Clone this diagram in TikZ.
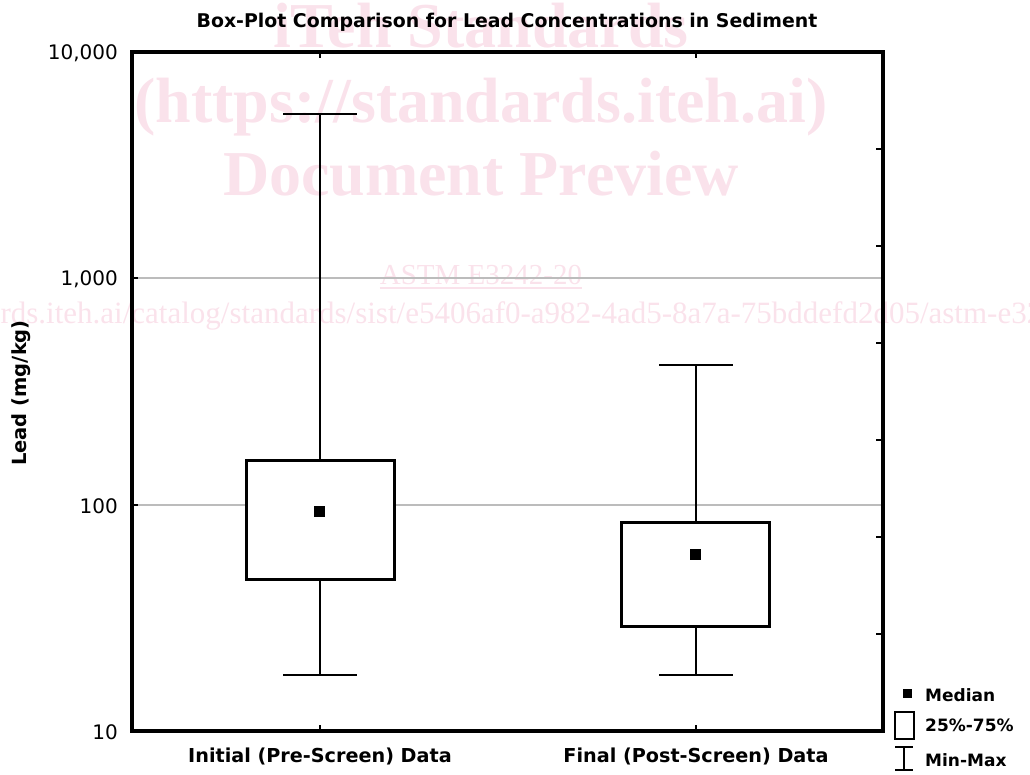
\documentclass[tikz,border=0pt]{standalone}
\usepackage{fontspec}
\setmainfont{DejaVu Sans}
\newfontfamily\wmfont{Liberation Serif}
\definecolor{wmpink}{RGB}{250,226,235}
\definecolor{gridgray}{RGB}{188,188,188}
\begin{document}
\begin{tikzpicture}[x=1pt,y=-1pt,
  wm/.style={text=wmpink, inner sep=0},
  wmbig/.style={wm, anchor=base, font=\wmfont\bfseries\fontsize{64}{70}\selectfont},
  frameline/.style={line width=3.2pt, black},
  gridline/.style={line width=2.2pt, gridgray},
  tickline/.style={line width=2.8pt, black},
  boxline/.style={line width=3pt, black, fill=white},
  whisk/.style={line width=2.8pt, black},
  legline/.style={line width=2.5pt, black},
  medsq/.style={fill=black, draw=none},
  ticklab/.style={font=\fontsize{20}{24}\selectfont, anchor=east, inner sep=0},
  catlab/.style={font=\bfseries\fontsize{19.2}{23}\selectfont, anchor=base, inner sep=0},
  leglab/.style={font=\bfseries\fontsize{17}{20}\selectfont, anchor=west, inner sep=0}]
\useasboundingbox (0,0) rectangle (1030,774);
% watermark
\begin{scope}
\clip (0,0) rectangle (1030,774);
\node[wmbig] (wm1) at (481,47) {iTeh Standards};
\node[wmbig] (wm2) at (481,122) {(https://standards.iteh.ai)};
\node[wmbig] (wm3) at (481,195) {Document Preview};
\node[wm, anchor=base, font=\wmfont\fontsize{29}{33}\selectfont] (astm) at (481,284) {ASTM E3242-20};
\draw[wmpink, line width=1.8pt] ([yshift=-4pt]astm.base west) -- ([yshift=-4pt]astm.base east);
\node[wm, anchor=base west, font=\wmfont\fontsize{31}{35}\selectfont] (url) at (-165,323) {https://standards.iteh.ai/catalog/standards/sist/e5406af0-a982-4ad5-8a7a-75bddefd2d05/astm-e3242-20};
\end{scope}
% title
\node[font=\bfseries\fontsize{18.9}{23}\selectfont, anchor=base, inner sep=0] (title) at (507,27) {Box-Plot Comparison for Lead Concentrations in Sediment};
% grid
\draw[gridline] (132,278) -- (883,278);
\draw[gridline] (132,505) -- (883,505);
% frame
\draw[frameline] (132,52) rectangle (883,731);
% ticks
\foreach \yy in {278,505} \draw[tickline] (132,\yy) -- (138,\yy);
\foreach \k in {1,...,6} \draw[tickline] (883,52+97*\k) -- (876,52+97*\k);
\foreach \xx in {320,696} {
  \draw[tickline] (\xx,52) -- (\xx,58);
  \draw[tickline] (\xx,731) -- (\xx,725);
}
% tick labels
\node[ticklab] (t4) at (118,53) {10,000};
\node[ticklab] (t3) at (118,279) {1,000};
\node[ticklab] (t2) at (118,506) {100};
\node[ticklab] (t1) at (118,732) {10};
% axis label
\node[font=\bfseries\fontsize{19.5}{23}\selectfont, rotate=90, inner sep=0] (ylab) at (21,393) {Lead (mg/kg)};
% category labels
\node[catlab] (c1) at (320,762) {Initial (Pre-Screen) Data};
\node[catlab] (c2) at (696,762) {Final (Post-Screen) Data};
% box 1
\draw[whisk] (320,114) -- (320,460);
\draw[whisk] (283,114) -- (357,114);
\draw[whisk] (320,579) -- (320,675);
\draw[whisk] (283,675) -- (357,675);
\draw[boxline] (246,460) rectangle (394,579);
\fill[medsq] (313.5,505.5) rectangle (324.5,516.5);
% box 2
\draw[whisk] (696,365) -- (696,522);
\draw[whisk] (659,365) -- (733,365);
\draw[whisk] (696,626) -- (696,675);
\draw[whisk] (659,675) -- (733,675);
\draw[boxline] (621,522) rectangle (769,626);
\fill[medsq] (689.5,549) rectangle (700.5,560);
% legend
\fill[medsq] (902.5,689) rectangle (911.5,698);
\draw[legline] (895,712) rectangle (914,739);
\draw[legline] (904,747) -- (904,770);
\draw[legline] (895,747) -- (913,747);
\draw[legline] (895,770) -- (913,770);
\node[leglab] (l1) at (925,695) {Median};
\node[leglab] (l2) at (925,725) {25\%-75\%};
\node[leglab] (l3) at (925,760) {Min-Max};
\end{tikzpicture}
\end{document}
